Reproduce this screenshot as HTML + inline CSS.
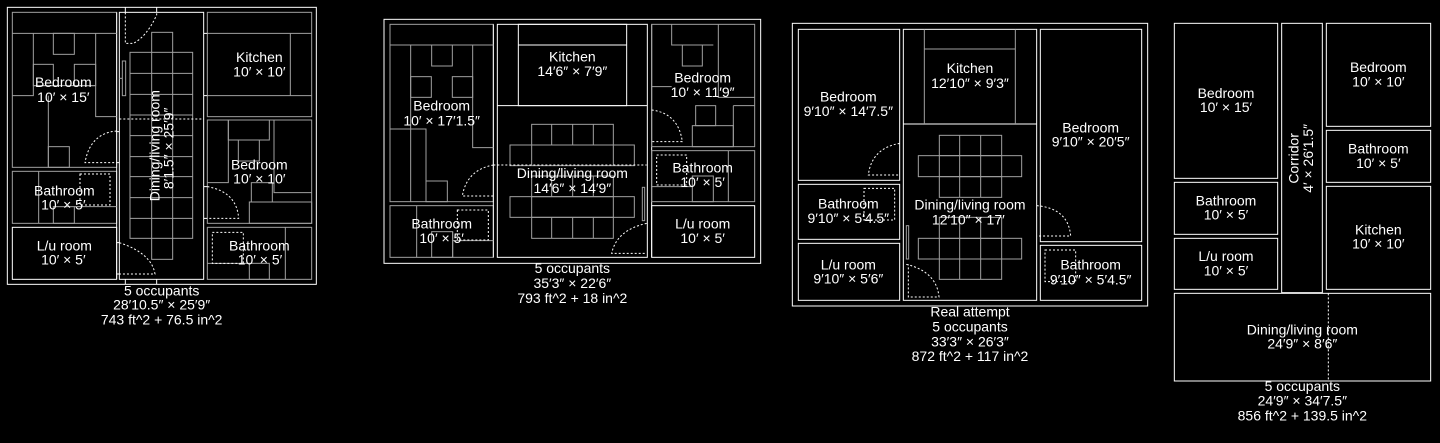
<!DOCTYPE html>
<html><head><meta charset="utf-8"><style>
html,body{margin:0;padding:0;background:#000;}
svg{display:block}
text{font-family:"Liberation Sans",sans-serif;font-size:42px;fill:#fff;text-anchor:middle;dominant-baseline:middle}
.w{fill:none;stroke:#fff;stroke-width:3}
.g{fill:none;stroke:#a0a0a0;stroke-width:3}
.d{fill:none;stroke:#fff;stroke-width:3;stroke-dasharray:6 6}
</style></head><body>
<svg width="1440" height="443" viewBox="0 0 1440 443" xmlns="http://www.w3.org/2000/svg">
<rect width="1440" height="443" fill="#000"/>

<!-- PLAN 1 -->
<g transform="scale(0.33333)">
<rect class="w" x="22" y="22" width="927" height="831"/>
<rect class="g" x="37" y="37" width="313" height="465"/>
<rect class="w" x="358" y="37" width="253" height="801"/>
<rect class="g" x="622" y="37" width="313" height="313"/>
<rect class="g" x="622" y="360" width="313" height="310"/>
<rect class="g" x="37" y="514" width="313" height="156"/>
<rect class="w" x="37" y="682" width="313" height="156"/>
<rect class="g" x="622" y="682" width="313" height="156"/>
<path class="w" d="M350,37V838 M611,100H622 M611,287H622 M611,560H622 M611,655H622 M350,395H358 M350,488H358 M350,728H358 M350,822H358 M376,22V37 M470,22V37 M376,838V853 M470,838V853"/>
<!-- bedroom L furniture -->
<path class="g" d="M37,100H350 M100,100V287H37 M287,100V350H350 M100,257H287 M145,287V502"/>
<rect class="g" x="160" y="100" width="63" height="63"/>
<rect class="g" x="100" y="193" width="60" height="64"/>
<rect class="g" x="223" y="193" width="64" height="64"/>
<rect class="g" x="145" y="440" width="63" height="62"/>
<!-- bathroom L -->
<path class="g" d="M116,514V670 M223,620H350"/>
<rect class="g" x="160" y="620" width="63" height="50"/>
<!-- kitchen -->
<path class="g" d="M622,100H935 M871,100V287 M622,287H935"/>
<!-- bedroom R -->
<path class="g" d="M685,360V548H622 M822,360V578H935"/>
<rect class="g" x="685" y="360" width="123" height="60"/>
<rect class="g" x="715" y="420" width="63" height="63"/>
<rect class="g" x="754" y="548" width="63" height="58"/>
<rect class="g" x="748" y="606" width="187" height="64"/>
<!-- bathroom R -->
<path class="g" d="M622,790H748 M856,682V838"/>
<rect class="g" x="748" y="790" width="60" height="48"/>
<!-- table -->
<rect class="g" x="390" y="157" width="188" height="558"/>
<rect class="g" x="455" y="97" width="63" height="681"/>
<path class="g" d="M390,220H578 M390,283H578 M390,345H578 M390,407H578 M390,470H578 M390,530H578 M390,593H578 M390,655H578"/>
<rect class="g" x="367" y="183" width="10" height="104"/>
<path class="g" d="M358,235H367"/>
<!-- dotted -->
<path class="d" d="M376,37V130H400Q440,110 470,45V37 M358,357H611 M350,393Q270,400 255,488H350 M622,560Q710,575 716,655H622 M358,728Q455,760 465,822H358"/>
<rect class="d" x="240" y="522" width="90" height="93"/>
<rect class="d" x="637" y="697" width="93" height="93"/>
<text x="190" y="250">Bedroom</text><text x="190" y="295">10′ × 15′</text>
<text x="778" y="175">Kitchen</text><text x="778" y="218">10′ × 10′</text>
<text x="778" y="497">Bedroom</text><text x="778" y="540">10′ × 10′</text>
<text x="193" y="575">Bathroom</text><text x="190" y="618">10′ × 5′</text>
<text x="193" y="740">L/u room</text><text x="190" y="783">10′ × 5′</text>
<text x="778" y="740">Bathroom</text><text x="780" y="783">10′ × 5′</text>
<text transform="translate(467,437) rotate(-90)">Dining/living room</text>
<text transform="translate(510,445) rotate(-90)">8′1.5″ × 25′9″</text>
<text x="485" y="875">5 occupants</text>
<text x="485" y="918">28′10.5″ × 25′9″</text>
<text x="485" y="962">743 ft^2 + 76.5 in^2</text>
</g>

<!-- PLAN 2 -->
<g transform="translate(380,10) scale(0.33333)">
<rect class="w" x="12" y="28" width="1130" height="732"/>
<rect class="g" x="30" y="43" width="310" height="532"/>
<rect class="g" x="30" y="587" width="310" height="155"/>
<rect class="w" x="352" y="43" width="450" height="699"/>
<path class="w" d="M352,287H802 M340,43V742 M815,43V742"/>
<rect class="w" x="415" y="43" width="325" height="244"/>
<path class="w" d="M415,105H740"/>
<rect class="g" x="815" y="43" width="309" height="367"/>
<rect class="g" x="815" y="422" width="309" height="153"/>
<rect class="w" x="815" y="587" width="309" height="155"/>
<path class="g" d="M30,105H340 M92,105V575 M30,357H138V575 M278,105V413H340 M110,587V742 M218,665V742 M218,692H340 M875,43V105H1000 M1015,43V262H1124 M815,230H875"/>
<rect class="g" x="155" y="105" width="62" height="63"/>
<rect class="g" x="92" y="200" width="62" height="62"/>
<rect class="g" x="217" y="200" width="61" height="62"/>
<rect class="g" x="138" y="513" width="64" height="62"/>
<rect class="g" x="155" y="665" width="63" height="77"/>
<rect class="g" x="907" y="105" width="60" height="63"/>
<rect class="g" x="947" y="287" width="60" height="60"/>
<rect class="g" x="937" y="347" width="123" height="63"/>
<path class="g" d="M1060,287H1124 M1060,287V410 M1045,422V575 M815,530H937"/>
<rect class="g" x="937" y="498" width="63" height="77"/>
<rect class="g" x="390" y="405" width="373" height="62"/>
<rect class="g" x="390" y="560" width="373" height="62"/>
<rect class="g" x="455" y="343" width="245" height="62"/>
<rect class="g" x="455" y="622" width="245" height="63"/>
<rect class="g" x="455" y="498" width="245" height="62"/>
<path class="g" d="M455,405V467 M700,405V467 M455,560V622 M700,560V622 M515,343V405 M578,343V405 M640,343V405 M515,622V685 M578,622V685 M640,622V685 M515,498V560 M578,498V560 M640,498V560"/>
<rect class="g" x="787" y="532" width="7" height="100"/>
<path class="d" d="M340,465H800 M340,465Q260,480 247,558H340 M815,300Q895,310 907,395H815 M800,640Q710,660 695,730H800"/>
<rect class="d" x="232" y="600" width="93" height="90"/>
<rect class="d" x="830" y="435" width="90" height="90"/>
<text x="577" y="143">Kitchen</text><text x="577" y="187">14′6″ × 7′9″</text>
<text x="185" y="290">Bedroom</text><text x="185" y="335">10′ × 17′1.5″</text>
<text x="968" y="207">Bedroom</text><text x="968" y="250">10′ × 11′9″</text>
<text x="577" y="493">Dining/living room</text><text x="577" y="538">14′6″ × 14′9″</text>
<text x="968" y="477">Bathroom</text><text x="968" y="520">10′ × 5′</text>
<text x="968" y="645">L/u room</text><text x="968" y="688">10′ × 5′</text>
<text x="185" y="645">Bathroom</text><text x="185" y="688">10′ × 5′</text>
<text x="577" y="778">5 occupants</text>
<text x="577" y="823">35′3″ × 22′6″</text>
<text x="577" y="868">793 ft^2 + 18 in^2</text>
</g>

<!-- PLAN 3 -->
<g transform="translate(785,15) scale(0.33333)">
<rect class="w" x="22" y="25" width="1066" height="848"/>
<rect class="w" x="40" y="43" width="304" height="453"/>
<rect class="w" x="40" y="508" width="304" height="165"/>
<rect class="w" x="40" y="685" width="304" height="171"/>
<rect class="w" x="355" y="43" width="400" height="813"/>
<path class="w" d="M355,327H755"/>
<rect class="w" x="766" y="43" width="304" height="637"/>
<rect class="w" x="766" y="691" width="304" height="165"/>
<path class="g" d="M418,43V327 M691,43V327 M418,102H691"/>
<rect class="g" x="400" y="422" width="310" height="63"/>
<rect class="g" x="463" y="361" width="187" height="186"/>
<path class="g" d="M524,361V547 M587,361V547 M463,422H650 M463,485H650"/>
<rect class="g" x="400" y="670" width="310" height="62"/>
<rect class="g" x="463" y="607" width="187" height="186"/>
<path class="g" d="M524,607V793 M587,607V793 M463,670H650 M463,732H650"/>
<rect class="g" x="364" y="632" width="7" height="100"/>
<path class="d" d="M344,385Q260,400 250,480H344 M755,572Q850,580 857,663H755 M364,748Q455,770 462,846H370V748"/>
<rect class="d" x="237" y="520" width="92" height="95"/>
<rect class="d" x="780" y="705" width="92" height="95"/>
<text x="555" y="163">Kitchen</text><text x="555" y="208">12′10″ × 9′3″</text>
<text x="190" y="248">Bedroom</text><text x="190" y="292">9′10″ × 14′7.5″</text>
<text x="917" y="342">Bedroom</text><text x="917" y="383">9′10″ × 20′5″</text>
<text x="555" y="573">Dining/living room</text><text x="550" y="617">12′10″ × 17′</text>
<text x="190" y="570">Bathroom</text><text x="190" y="613">9′10″ × 5′4.5″</text>
<text x="190" y="752">L/u room</text><text x="190" y="795">9′10″ × 5′6″</text>
<text x="917" y="752">Bathroom</text><text x="917" y="797">9′10″ × 5′4.5″</text>
<text x="555" y="893">Real attempt</text>
<text x="555" y="938">5 occupants</text>
<text x="555" y="983">33′3″ × 26′3″</text>
<text x="555" y="1027">872 ft^2 + 117 in^2</text>
</g>

<!-- PLAN 4 -->
<g transform="translate(1165,15) scale(0.33333)">
<rect class="w" x="28" y="25" width="310" height="465"/>
<rect class="w" x="28" y="502" width="310" height="156"/>
<rect class="w" x="28" y="670" width="310" height="153"/>
<rect class="w" x="350" y="25" width="122" height="808"/>
<rect class="w" x="484" y="25" width="313" height="309"/>
<rect class="w" x="484" y="346" width="313" height="156"/>
<rect class="w" x="484" y="514" width="313" height="309"/>
<rect class="w" x="28" y="835" width="769" height="263"/>
<path class="d" d="M490,835V1098"/>
<text x="183" y="238">Bedroom</text><text x="183" y="280">10′ × 15′</text>
<text x="183" y="560">Bathroom</text><text x="183" y="602">10′ × 5′</text>
<text x="183" y="727">L/u room</text><text x="183" y="770">10′ × 5′</text>
<text x="640" y="160">Bedroom</text><text x="640" y="203">10′ × 10′</text>
<text x="640" y="405">Bathroom</text><text x="640" y="448">10′ × 5′</text>
<text x="640" y="648">Kitchen</text><text x="640" y="690">10′ × 10′</text>
<text transform="translate(390,430) rotate(-90)">Corridor</text>
<text transform="translate(433,430) rotate(-90)">4′ × 26′1.5″</text>
<text x="412" y="947">Dining/living room</text><text x="412" y="990">24′9″ × 8′6″</text>
<text x="412" y="1117">5 occupants</text>
<text x="412" y="1160">24′9″ × 34′7.5″</text>
<text x="412" y="1205">856 ft^2 + 139.5 in^2</text>
</g>
</svg>
</body></html>
